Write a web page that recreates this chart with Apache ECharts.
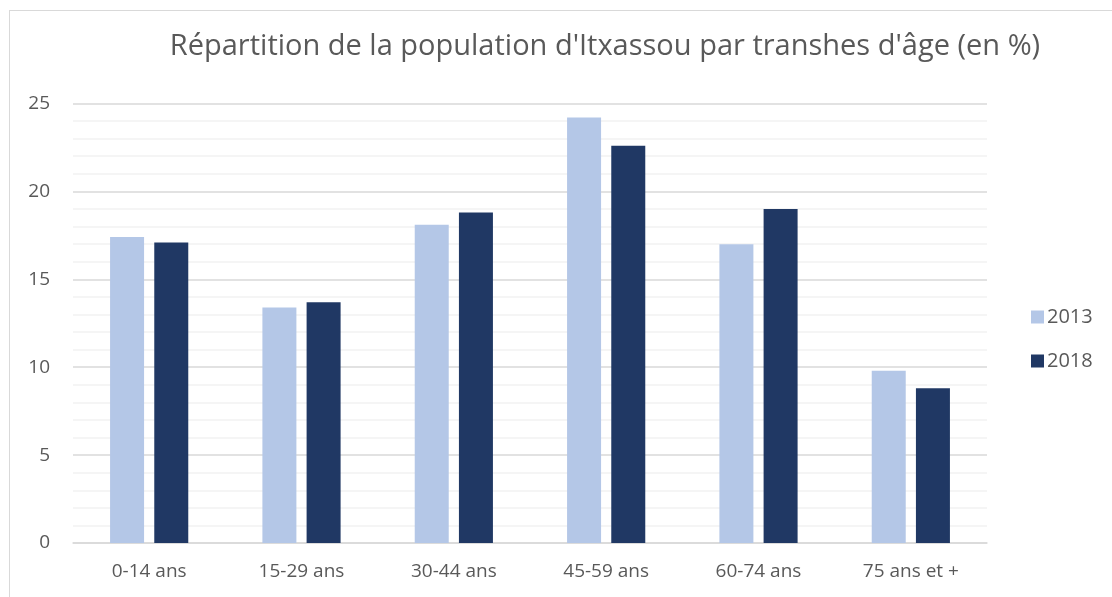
<!DOCTYPE html>
<html>
<head>
<meta charset="utf-8">
<script src="https://cdn.jsdelivr.net/npm/echarts@6/dist/echarts.min.js"></script>
<style>
html, body { margin: 0; padding: 0; background: #fff; overflow: hidden; }
#frame { position: absolute; left: 9px; top: 10px; width: 1200px; height: 700px; border: 1px solid #D9D9D9; }
#chart { position: absolute; left: 0; top: 0; width: 1112px; height: 597px; }
</style>
</head>
<body>
<div id="frame"></div>
<div id="chart"></div>
<script>
// tranches d'âge
var categories = ["0-14 ans", "15-29 ans", "30-44 ans", "45-59 ans", "60-74 ans", "75 ans et +"];
var values2013 = [17.4, 13.4, 18.1, 24.2, 17.0, 9.8];
var values2018 = [17.1, 13.7, 18.8, 22.6, 19.0, 8.8];
var yTicks = [0, 5, 10, 15, 20, 25];

var textColor = "#595959";
var fontName = "'Open Sans', 'Liberation Sans', sans-serif";

var myChart = echarts.init(document.getElementById("chart"), null, { renderer: "canvas" });

var option = {
	animation: false,
	textStyle: { fontFamily: fontName },
	title: {
		text: "Répartition de la population d'Itxassou par transhes d'âge (en %)",
		left: 600,
		top: 27,
		textAlign: "center",
		textStyle: { fontFamily: fontName, fontSize: 29, fontWeight: "normal", color: textColor }
	},
	legend: {
		orient: "vertical",
		left: 1026,
		top: 302,
		itemWidth: 13,
		itemHeight: 13,
		itemGap: 24,
		icon: "rect",
		textStyle: { fontFamily: fontName, fontSize: 20, color: textColor, padding: [0, 0, 0, -2] },
		data: ["2013", "2018"]
	},
	grid: { left: 73, right: 125, top: 103.5, bottom: 54 },
	xAxis: {
		type: "category",
		data: categories,
		axisLine: { lineStyle: { color: "#D9D9D9", width: 1.5 } },
		axisTick: { show: false },
		axisLabel: { fontFamily: fontName, fontSize: 19, color: textColor, margin: 19 }
	},
	yAxis: {
		type: "value",
		min: 0,
		max: yTicks[yTicks.length - 1],
		interval: 5,
		axisLine: { show: false },
		axisTick: { show: false },
		axisLabel: { fontFamily: fontName, fontSize: 19, color: textColor, margin: 23 },
		splitLine: { lineStyle: { color: "#D9D9D9", width: 1.5 } },
		minorTick: { show: false, splitNumber: 5 },
		minorSplitLine: { show: true, lineStyle: { color: "#F2F2F2", width: 1.5 } }
	},
	series: [
		{
			name: "2013",
			type: "bar",
			data: values2013,
			barWidth: 34,
			barGap: "30%",
			itemStyle: { color: "#B4C7E7" }
		},
		{
			name: "2018",
			type: "bar",
			data: values2018,
			barWidth: 34,
			barGap: "30%",
			itemStyle: { color: "#203864" }
		}
	]
};

myChart.setOption(option);
</script>
</body>
</html>
